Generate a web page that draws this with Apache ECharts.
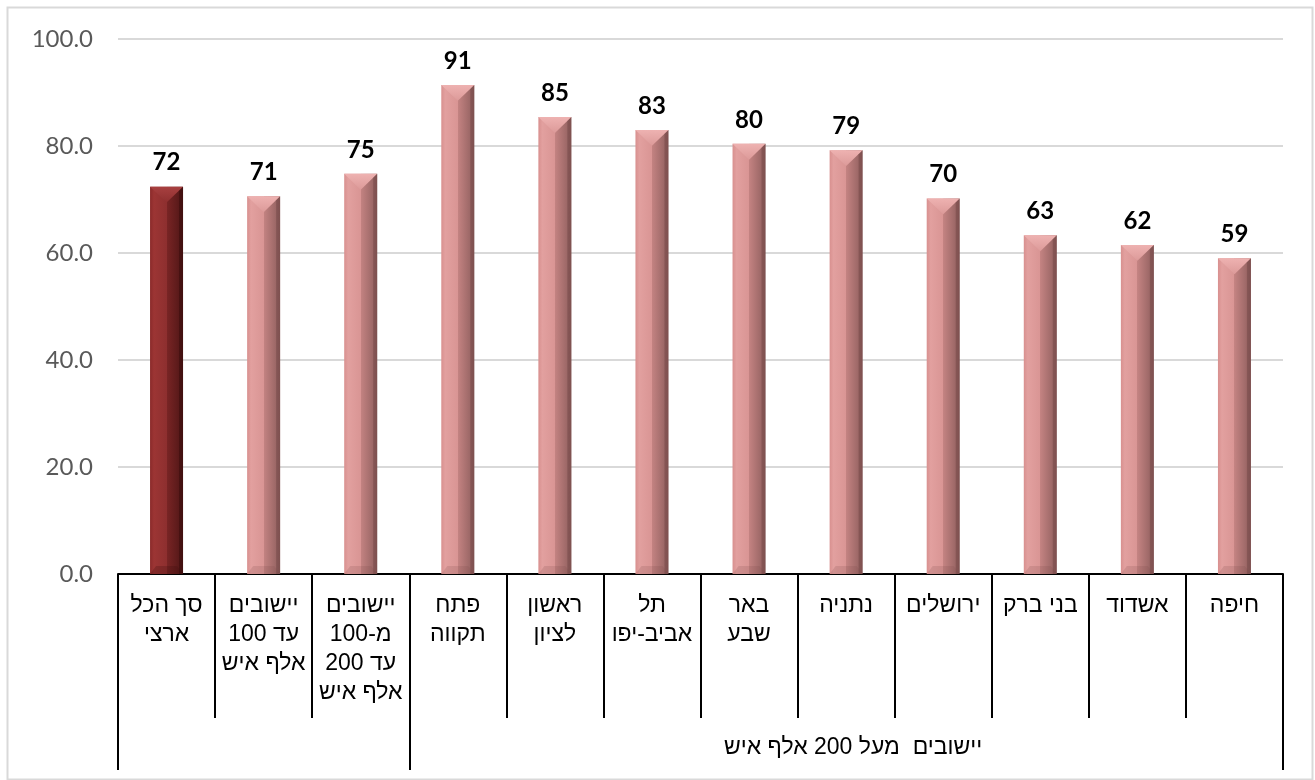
<!DOCTYPE html>
<html>
<head>
<meta charset="utf-8">
<script src="https://cdn.jsdelivr.net/npm/echarts@6/dist/echarts.min.js"></script>
<style>
html,body{margin:0;padding:0;background:#fff;}
#chart{width:1315px;height:780px;}
</style>
</head>
<body>
<div id="chart"></div>
<script>
// ---- data ----
const categories = [
  'סך הכל\nארצי',
  'יישובים\nעד 100\nאלף איש',
  'יישובים\nמ-100\nעד 200\nאלף איש',
  'פתח\nתקווה',
  'ראשון\nלציון',
  'תל\nאביב-יפו',
  'באר\nשבע',
  'נתניה',
  'ירושלים',
  'בני ברק',
  'אשדוד',
  'חיפה'
];
const values = [72.4, 70.6, 74.8, 91.4, 85.4, 83.0, 80.4, 79.2, 70.2, 63.3, 61.5, 59.0];
const groupLabels = ['', '', '', '', '', '', '', 'יישובים  מעל 200 אלף איש', '', '', '', ''];
const groupStarts = [0, 3];
const yTicks = [0, 20, 40, 60, 80, 100];

const pinkFace = {type:'linear',x:0,y:0,x2:1,y2:0,colorStops:[
  {offset:0,color:'#d8908f'},{offset:0.12,color:'#e2a09f'},{offset:0.5,color:'#d99594'},
  {offset:0.5,color:'#c48382'},{offset:1,color:'#8e5e5d'}]};
const darkFace = {type:'linear',x:0,y:0,x2:1,y2:0,colorStops:[
  {offset:0,color:'#8a2a2a'},{offset:0.12,color:'#9c3534'},{offset:0.5,color:'#8e2f2f'},
  {offset:0.5,color:'#7a2525'},{offset:1,color:'#4f1616'}]};

const chart = echarts.init(document.getElementById('chart'), null, {renderer:'canvas'});
const txtFont = '"Liberation Sans", Arial, sans-serif';
const numFont = 'Lato, "Open Sans", sans-serif';

chart.setOption({
  backgroundColor:'#fff',
  animation:false,
  graphic:[{type:'rect',left:5,top:5,shape:{width:1305,height:772},
    style:{fill:'none',stroke:'#d9d9d9',lineWidth:2},silent:true}],
  grid:{left:118,right:32,top:39,bottom:206},
  xAxis:[{
    type:'category',data:categories,position:'bottom',
    axisLine:{show:true,lineStyle:{color:'#000',width:2}},
    axisTick:{show:true,interval:0,length:144,lineStyle:{color:'#000',width:2}},
    axisLabel:{interval:0,margin:17,color:'#000',fontFamily:txtFont,fontSize:23,lineHeight:29,align:'center'}
  },{
    type:'category',data:groupLabels,position:'bottom',
    axisLine:{show:false},
    axisTick:{show:true,interval:function(i){return groupStarts.indexOf(i)>=0;},length:196,lineStyle:{color:'#000',width:2}},
    axisLabel:{interval:0,margin:162,color:'#000',fontFamily:txtFont,fontSize:23,padding:[0,0,0,14]}
  }],
  yAxis:{
    type:'value',min:yTicks[0],max:yTicks[yTicks.length-1],interval:20,
    axisLine:{show:false},axisTick:{show:false},
    axisLabel:{margin:25,color:'#595959',fontFamily:numFont,fontSize:24,formatter:function(v){return v.toFixed(1);}},
    splitLine:{lineStyle:{color:'#d9d9d9',width:2}}
  },
  series:[{
    type:'bar',xAxisIndex:0,barWidth:33,
    data:values.map(function(v,i){return {value:v,itemStyle:{color:i===0?darkFace:pinkFace}};}),
    label:{show:true,position:'top',distance:12,color:'#000',fontFamily:numFont,fontWeight:'bold',fontSize:24,
      formatter:function(p){return Math.round(p.value);}},
    z:2
  },{
    type:'custom',xAxisIndex:0,z:3,silent:true,
    data:values.map(function(v,i){return [i,v];}),
    renderItem:function(params,api){
      const i=api.value(0), v=api.value(1);
      const top=api.coord([i,v]), base=api.coord([i,0]);
      const w=33, x0=top[0]-w/2, x1=top[0]+w/2, y0=top[1], y1=base[1];
      const dark=i===0;
      const d=w*0.48;
      return {type:'group',children:[
        {type:'polygon',shape:{points:[[x0,y0],[x1,y0],[top[0],y0+d]]},
          style:{fill:{type:'linear',x:0,y:0,x2:0,y2:1,colorStops:[
            {offset:0,color:dark?'#a84040':'#eeb2b1'},{offset:1,color:dark?'#8e2f2f':'#dc9a99'}]}}},
        {type:'polygon',shape:{points:[[x1,y0],[x1-4,y0+4],[x1-4,y1],[x1,y1]]},
          style:{fill:dark?'rgba(40,5,5,0.35)':'rgba(90,50,50,0.3)'}},
        {type:'polygon',shape:{points:[[x0,y1],[x0+6,y1-8],[x1-6,y1-8],[x1,y1]]},
          style:{fill:dark?'rgba(60,10,10,0.25)':'rgba(120,70,70,0.18)'}}
      ]};
    }
  }]
});
</script>
</body>
</html>
